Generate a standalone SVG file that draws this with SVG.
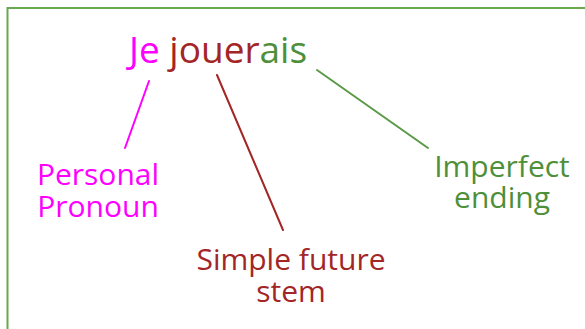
<svg xmlns="http://www.w3.org/2000/svg" width="585" height="329" viewBox="0 0 585 329">
<style>
text{font-family:"Open Sans","Noto Sans","Liberation Sans",sans-serif;}
.pink{fill:#ff00ff}
.red{fill:#a32626}
.green{fill:#4e8f3a}
.lbl{font-size:30px;text-anchor:middle}
.title{font-size:37px}
.conn line{stroke-width:2;stroke-linecap:round}
</style>
<rect x="7.5" y="8" width="600" height="340" fill="#ffffff" stroke="#6aa84f" stroke-width="2"/>
<g id="word">
<text class="title" x="129" y="63"><tspan class="pink">Je</tspan> <tspan class="red">jouer</tspan><tspan class="green">ais</tspan></text>
</g>
<g id="connectors" class="conn">
<line x1="149" y1="81" x2="125" y2="148" stroke="#ff00ff"/>
<line x1="217" y1="75" x2="283" y2="230" stroke="#a32626"/>
<line x1="317" y1="70" x2="428" y2="148" stroke="#5a9a46"/>
</g>
<g id="pronoun">
<text class="lbl pink" x="98" y="185">Personal</text>
<text class="lbl pink" x="98" y="217">Pronoun</text>
</g>
<g id="stem">
<text class="lbl red" x="291" y="270">Simple future</text>
<text class="lbl red" x="291" y="302">stem</text>
</g>
<g id="ending">
<text class="lbl green" x="502" y="177">Imperfect</text>
<text class="lbl green" x="502" y="208">ending</text>
</g>
</svg>
